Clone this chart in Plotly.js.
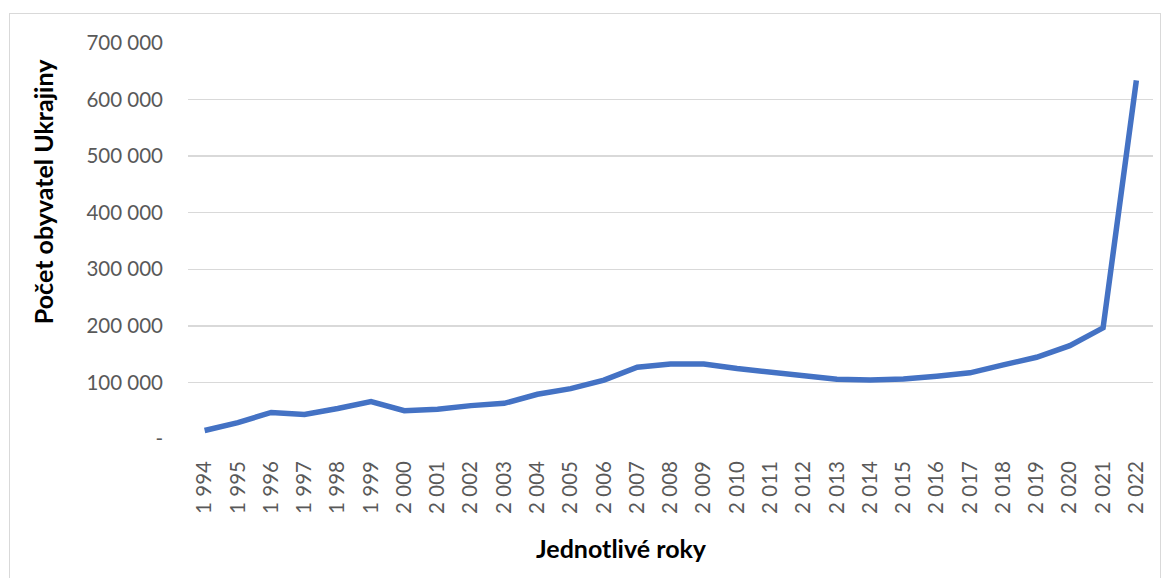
<!DOCTYPE html>
<html>
<head>
<meta charset="utf-8">
<script src="https://cdn.plot.ly/plotly-3.0.1.min.js"></script>
<style>
html,body{margin:0;padding:0;background:#fff;}
#wrap{position:relative;width:1170px;height:578px;}
#frame{position:absolute;left:9px;top:13px;width:1152px;height:575px;border:1px solid #d9d9d9;box-sizing:border-box;pointer-events:none;}
#chart{position:absolute;left:0;top:0;width:1170px;height:578px;}
</style>
</head>
<body>
<div id="wrap"><div id="chart"></div><div id="frame"></div></div>
<script>
const years = ["1 994","1 995","1 996","1 997","1 998","1 999","2 000","2 001","2 002","2 003","2 004","2 005","2 006","2 007","2 008","2 009","2 010","2 011","2 012","2 013","2 014","2 015","2 016","2 017","2 018","2 019","2 020","2 021","2 022"];
const population = [15000,29000,47000,43500,54000,66000,50000,52500,59000,63000,79000,89000,104000,127000,132500,132500,124500,118000,111000,105500,104500,106000,111000,117000,131000,144500,165000,196500,634000];
const yTickVals = [0,100000,200000,300000,400000,500000,600000,700000];
const yTickText = ["-","100 000","200 000","300 000","400 000","500 000","600 000","700 000"];
const xTitle = "Jednotlivé roky";
const yTitle = "Počet obyvatel Ukrajiny";

const tickFont = {family: "Lato, 'Open Sans', sans-serif", size: 20.5, color: "#595959"};
const titleFont = {family: "Lato, 'Open Sans', sans-serif", size: 25, color: "#000000", weight: "bold"};

Plotly.newPlot("chart", [{
  x: years,
  y: population,
  type: "scatter",
  mode: "lines",
  line: {color: "#4472C4", width: 5.5, shape: "linear"},
  hoverinfo: "skip"
}], {
  width: 1170, height: 578,
  margin: {l: 188, r: 17, t: 43, b: 139},
  paper_bgcolor: "rgba(0,0,0,0)",
  plot_bgcolor: "#ffffff",
  showlegend: false,
  xaxis: {
    type: "category",
    range: [-0.5, 28.5],
    tickangle: -90,
    tickfont: tickFont,
    showgrid: false,
    zeroline: false,
    showline: false,
    ticks: "",
    ticklabelstandoff: 17
  },
  yaxis: {
    range: [0, 700000],
    tickvals: yTickVals,
    ticktext: yTickText,
    tickfont: tickFont,
    showgrid: true,
    gridcolor: "#d9d9d9",
    gridwidth: 1.3,
    zeroline: false,
    showline: false,
    ticks: "",
    ticklabelstandoff: 24
  },
  annotations: [{
    text: yTitle, textangle: -90, font: titleFont,
    xref: "paper", yref: "paper", x: -0.150, y: 0.624,
    xanchor: "center", yanchor: "middle", showarrow: false
  },{
    text: xTitle, font: titleFont,
    xref: "paper", yref: "paper", x: 0.4497, y: -0.275,
    xanchor: "center", yanchor: "middle", showarrow: false
  }]
}, {staticPlot: true});
</script>
</body>
</html>
